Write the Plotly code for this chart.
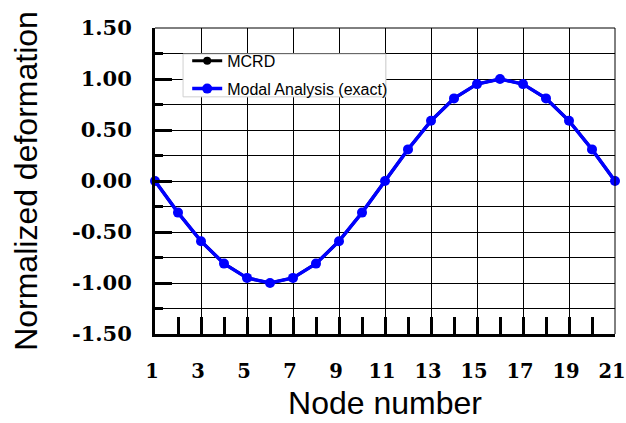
import plotly.graph_objects as go

nodes = list(range(1, 22))
mcrd = [0.00, -0.31, -0.59, -0.81, -0.95, -1.00, -0.95, -0.81, -0.59, -0.31, 0.00,
        0.31, 0.59, 0.81, 0.95, 1.00, 0.95, 0.81, 0.59, 0.31, 0.00]
modal = [0.00, -0.31, -0.59, -0.81, -0.95, -1.00, -0.95, -0.81, -0.59, -0.31, 0.00,
         0.31, 0.59, 0.81, 0.95, 1.00, 0.95, 0.81, 0.59, 0.31, 0.00]
x_ticks = [1, 3, 5, 7, 9, 11, 13, 15, 17, 19, 21]
x_ticktext = ["1", "3", "5", "7", "9", "11", "13", "15", "17", "19", "21"]
y_ticks = [-1.5, -1.0, -0.5, 0.0, 0.5, 1.0, 1.5]
y_ticktext = ["-1.50", "-1.00", "-0.50", "0.00", "0.50", "1.00", "1.50"]

fig = go.Figure()
fig.add_trace(go.Scatter(x=nodes, y=mcrd, name="MCRD", mode="lines+markers",
                         legendgroup="a",
                         line=dict(color="black", width=3),
                         marker=dict(color="black", size=8), cliponaxis=False))
fig.add_trace(go.Scatter(x=nodes, y=modal, name="Modal Analysis (exact)", mode="lines+markers",
                         legendgroup="b",
                         line=dict(color="#0000FF", width=3.5),
                         marker=dict(color="#0000FF", size=10), cliponaxis=False))

ytickfont = dict(family="DejaVu Serif", size=21, color="black", weight="bold")
xtickfont = dict(family="DejaVu Serif", size=19.5, color="black", weight="bold")
titlefont = dict(family="Liberation Sans, Arial", size=32, color="black")

fig.update_layout(
    width=626, height=423,
    margin=dict(l=155, r=11, t=28, b=89),
    paper_bgcolor="white", plot_bgcolor="white",
    showlegend=True,
    legend=dict(x=0.070, y=0.948, xanchor="left", yanchor="top",
                bgcolor="rgba(0,0,0,0)", borderwidth=0,
                font=dict(family="Liberation Sans, Arial", size=16, color="black"),
                traceorder="grouped", tracegroupgap=4, itemwidth=30),
    xaxis=dict(range=[1, 21], tickmode="array", tickvals=x_ticks, ticktext=x_ticktext,
               ticks="inside", ticklen=17, tickwidth=3, tickcolor="black",
               showline=True, linewidth=3, linecolor="black",
               showgrid=True, gridcolor="black", gridwidth=1, zeroline=False,
               tickfont=xtickfont, ticklabelstandoff=18, ticklabelshift=-3,
               automargin=False, ticklabeloverflow="allow",
               minor=dict(tickmode="linear", tick0=1, dtick=1, ticks="inside",
                          ticklen=17, tickwidth=3, tickcolor="black", showgrid=False),
               title=dict(text="Node number", font=titlefont, standoff=10)),
    yaxis=dict(range=[-1.5, 1.5], tickmode="array", tickvals=y_ticks, ticktext=y_ticktext,
               ticks="inside", ticklen=17, tickwidth=3, tickcolor="black",
               showline=True, linewidth=3, linecolor="black",
               showgrid=True, gridcolor="black", gridwidth=1, zeroline=False,
               tickfont=ytickfont, ticklabelstandoff=16, automargin=False,
               minor=dict(tickmode="linear", tick0=-1.5, dtick=0.25, ticks="inside",
                          ticklen=8, tickwidth=3, tickcolor="black",
                          showgrid=True, gridcolor="black", gridwidth=1),
               title=dict(text="Normalized deformation", font=titlefont, standoff=25)),
)

# white legend panel covering the grid
fig.add_shape(type="rect", xref="paper", yref="paper", x0=0.061, x1=0.502, y0=0.775, y1=0.915,
              fillcolor="white", line=dict(color="#d0d0d0", width=1), layer="above")
fig.add_shape(type="line", xref="paper", yref="paper", x0=0, x1=1, y0=1, y1=1,
              line=dict(color="black", width=1))
fig.add_shape(type="line", xref="paper", yref="paper", x0=1, x1=1, y0=0, y1=1,
              line=dict(color="black", width=1))

fig.write_html("out.html", config={"displayModeBar": False},
               post_script="document.body.style.margin='0';document.body.style.overflow='hidden';")
